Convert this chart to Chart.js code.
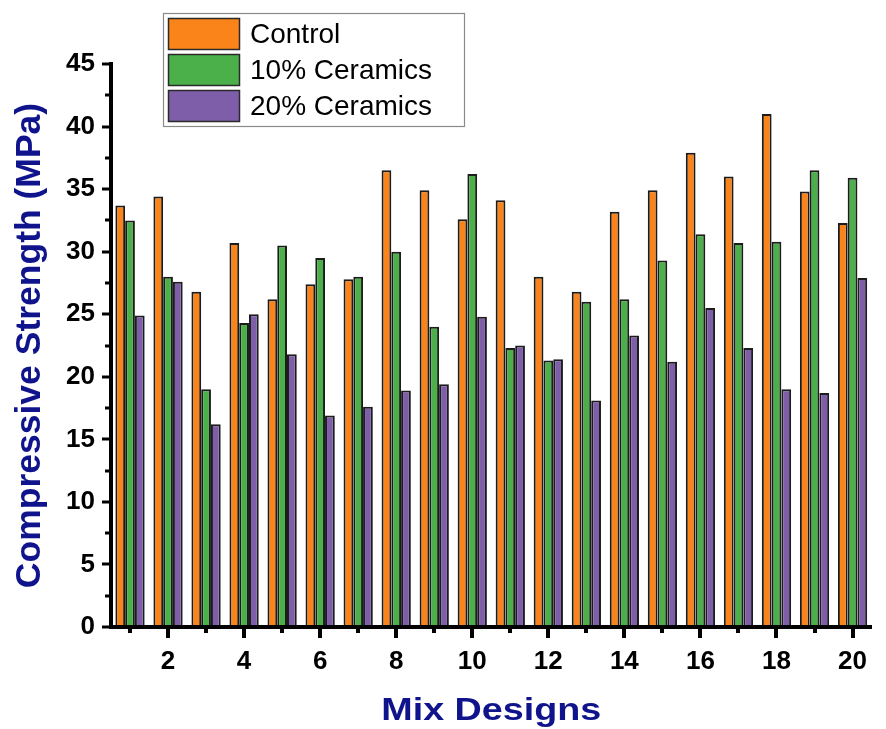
<!DOCTYPE html>
<html>
<head>
<meta charset="utf-8">
<script src="https://cdn.jsdelivr.net/npm/chart.js@4/dist/chart.umd.min.js"></script>
<style>
  html, body { margin: 0; padding: 0; background: #ffffff; }
  #wrap { width: 886px; height: 729px; position: relative; }
</style>
</head>
<body>
<div id="wrap"><canvas id="chart" width="886" height="729"></canvas></div>
<script>
// Mix design numbers on the category axis
const mixDesigns = ['1', '2', '3', '4', '5', '6', '7', '8', '9', '10',
                    '11', '12', '13', '14', '15', '16', '17', '18', '19', '20'];

// Compressive strength (MPa) per mix design
const control    = [33.7, 34.4, 26.8, 30.7, 26.2, 27.4, 27.8, 36.5, 34.9, 32.6,
                    34.1, 28.0, 26.8, 33.2, 34.9, 37.9, 36.0, 41.0, 34.8, 32.3];
const ceramics10 = [32.5, 28.0, 19.0, 24.3, 30.5, 29.5, 28.0, 30.0, 24.0, 36.2,
                    22.3, 21.3, 26.0, 26.2, 29.3, 31.4, 30.7, 30.8, 36.5, 35.9];
const ceramics20 = [24.9, 27.6, 16.2, 25.0, 21.8, 16.9, 17.6, 18.9, 19.4, 24.8,
                    22.5, 21.4, 18.1, 23.3, 21.2, 25.5, 22.3, 19.0, 18.7, 27.9];

const seriesNames = ['Control', '10% Ceramics', '20% Ceramics'];

// Y axis range and labelled step
const yMin = 0, yMax = 45, yStep = 5;

const FONT = "'Liberation Sans', Arial, Helvetica, sans-serif";
const NAVY = '#0f148c';
const X_TITLE = 'Mix Designs';

// Major/minor tick marks drawn outward from both axes
const axisTicks = {
  id: 'axisTicks',
  afterDatasetsDraw(chart) {
    const { ctx, scales: { x, y } } = chart;
    ctx.save();
    ctx.strokeStyle = '#000';
    ctx.lineCap = 'butt';
    const left = chart.chartArea.left;
    const bottom = chart.chartArea.bottom;
    // y ticks: major every yStep, minor halfway between
    for (let v = yMin; v <= yMax + 1e-9; v += yStep / 2) {
      const py = Math.round(y.getPixelForValue(v));
      const major = Math.abs(v / yStep - Math.round(v / yStep)) < 1e-6;
      ctx.lineWidth = 3;
      ctx.beginPath();
      ctx.moveTo(left, py);
      ctx.lineTo(left - (major ? 9 : 6), py);
      ctx.stroke();
    }
    // x ticks: major under even designs, minor under odd ones
    for (let i = 0; i < mixDesigns.length; i++) {
      const px = Math.round(x.getPixelForTick(i));
      const major = (Number(mixDesigns[i]) % 2 === 0);
      ctx.lineWidth = 4;
      ctx.beginPath();
      ctx.moveTo(px, bottom);
      ctx.lineTo(px, bottom + (major ? 11 : 6));
      ctx.stroke();
    }
    ctx.restore();
  }
};

// Wide bold x-axis title, centred under the plot area
const wideXTitle = {
  id: 'wideXTitle',
  afterDraw(chart) {
    const { ctx, chartArea } = chart;
    ctx.save();
    ctx.font = 'bold 32px ' + FONT;
    const w = ctx.measureText(X_TITLE).width;
    const sx = 220 / w;
    const cx = (chartArea.left + chartArea.right) / 2;
    ctx.translate(cx, 720);
    ctx.scale(sx, 1);
    ctx.fillStyle = NAVY;
    ctx.textAlign = 'center';
    ctx.textBaseline = 'alphabetic';
    ctx.fillText(X_TITLE, 0, 0);
    ctx.restore();
  }
};

// Boxed legend placed over the upper part of the plot
const boxLegend = {
  id: 'boxLegend',
  afterDraw(chart) {
    const { ctx } = chart;
    const bx = 163, by = 13, bw = 301, bh = 113;
    const rowH = 36;
    ctx.save();
    ctx.fillStyle = '#ffffff';
    ctx.fillRect(bx, by, bw, bh);
    ctx.strokeStyle = '#8a8a8a';
    ctx.lineWidth = 1.2;
    ctx.strokeRect(bx + 0.5, by + 0.5, bw, bh);
    chart.data.datasets.forEach((ds, i) => {
      const sy = by + 5 + i * rowH;
      ctx.fillStyle = ds.backgroundColor;
      ctx.fillRect(168, sy, 72, 32);
      ctx.strokeStyle = '#2a2a2a';
      ctx.lineWidth = 1.5;
      ctx.strokeRect(168.5, sy + 0.5, 71, 31);
      ctx.fillStyle = '#000';
      ctx.font = '28px ' + FONT;
      ctx.textBaseline = 'middle';
      ctx.textAlign = 'left';
      ctx.fillText(ds.label, 250, sy + 17);
    });
    ctx.restore();
  }
};

const barStyle = { borderColor: '#1c1c1c', borderWidth: 2, categoryPercentage: 0.77, barPercentage: 1.0 };

new Chart(document.getElementById('chart'), {
  type: 'bar',
  data: {
    labels: mixDesigns,
    datasets: [
      { label: seriesNames[0], data: control,    backgroundColor: '#fa841a', ...barStyle },
      { label: seriesNames[1], data: ceramics10, backgroundColor: '#4bb04a', ...barStyle },
      { label: seriesNames[2], data: ceramics20, backgroundColor: '#7e5ea8', ...barStyle }
    ]
  },
  options: {
    responsive: false,
    animation: false,
    devicePixelRatio: 1,
    layout: { padding: { top: 64, right: 0, left: 0, bottom: 0 } },
    plugins: {
      legend: { display: false },
      tooltip: { enabled: false }
    },
    scales: {
      x: {
        offset: true,
        grid: { display: false, drawTicks: false },
        border: { display: true, color: '#000', width: 4, z: 1 },
        ticks: {
          autoSkip: false,
          maxRotation: 0,
          padding: 19,
          color: '#000',
          font: { family: FONT, size: 26, weight: 'bold' },
          callback: function (value, index) {
            const lab = this.getLabelForValue(value);
            return Number(lab) % 2 === 0 ? lab : '';
          }
        },
        title: { display: false, text: X_TITLE },
        afterFit(scale) { scale.height = 102; }
      },
      y: {
        min: yMin,
        max: yMax,
        grid: { display: false, drawTicks: false },
        border: { display: true, color: '#000', width: 4, z: 1 },
        ticks: {
          stepSize: yStep,
          padding: 16,
          color: '#000',
          font: { family: FONT, size: 26, weight: 'bold' }
        },
        title: {
          display: true,
          text: 'Compressive Strength (MPa)',
          color: NAVY,
          font: { family: FONT, size: 35.5, weight: 'bold', lineHeight: 1.0 },
          padding: { top: 12, bottom: 0 }
        },
        afterFit(scale) { scale.width = 111; }
      }
    }
  },
  plugins: [axisTicks, wideXTitle, boxLegend]
});
</script>
</body>
</html>
